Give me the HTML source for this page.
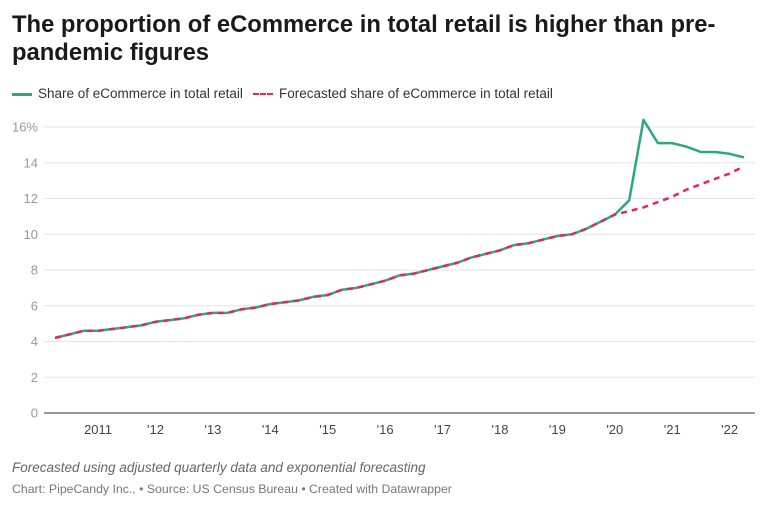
<!DOCTYPE html>
<html><head><meta charset="utf-8"><style>
body{margin:0;background:#fff;font-family:"Liberation Sans",sans-serif;}
#wrap{position:relative;width:768px;height:508px;overflow:hidden;}
h1{position:absolute;left:12px;top:11px;margin:0;font-size:23.8px;line-height:28px;font-weight:bold;color:#1a1a1a;width:756px;white-space:nowrap;}
.leg{position:absolute;top:86px;font-size:13.5px;color:#333;}
.note{position:absolute;left:12px;font-size:12.5px;color:#666;}
</style></head><body>
<div id="wrap">
<h1>The proportion of eCommerce in total retail is higher than pre-<br>pandemic figures</h1>
<div class="leg" style="left:12px"><span style="display:inline-block;width:20px;height:2.5px;background:#2ca97c;vertical-align:middle;margin-right:6px"></span>Share of eCommerce in total retail</div>
<div class="leg" style="left:253px"><span style="display:inline-block;width:20px;border-top:2.5px dashed #e8245f;vertical-align:middle;margin-right:6px"></span>Forecasted share of eCommerce in total retail</div>
<svg id="chart" width="768" height="508" style="position:absolute;left:0;top:0"></svg>
<div class="note" style="top:460px;font-style:italic;font-size:13.5px">Forecasted using adjusted quarterly data and exponential forecasting</div>
<div class="note" style="top:482px;font-size:12.3px;color:#777">Chart: PipeCandy Inc., • Source: US Census Bureau • Created with Datawrapper</div>
</div>
<script>
const actual=[4.2,4.4,4.6,4.6,4.7,4.8,4.9,5.1,5.2,5.3,5.5,5.6,5.6,5.8,5.9,6.1,6.2,6.3,6.5,6.6,6.9,7.0,7.2,7.4,7.7,7.8,8.0,8.2,8.4,8.7,8.9,9.1,9.4,9.5,9.7,9.9,10.0,10.3,10.7,11.1,11.9,16.4,15.1,15.1,14.9,14.6,14.6,14.5,14.3];
const forecast=[4.2,4.4,4.6,4.6,4.7,4.8,4.9,5.1,5.2,5.3,5.5,5.6,5.6,5.8,5.9,6.1,6.2,6.3,6.5,6.6,6.9,7.0,7.2,7.4,7.7,7.8,8.0,8.2,8.4,8.7,8.9,9.1,9.4,9.5,9.7,9.9,10.0,10.3,10.7,11.1,11.3,11.5,11.8,12.1,12.5,12.8,13.1,13.4,13.8];
const yTicks=[0,2,4,6,8,10,12,14,16];
const xLabels=["2011","'12","'13","'14","'15","'16","'17","'18","'19","'20","'21","'22"];
const xLabelIdx=[3,7,11,15,19,23,27,31,35,39,43,47];
const NS="http://www.w3.org/2000/svg",svg=document.getElementById('chart');
const x=i=>55+i*(744-55)/48, y=v=>413-v*(413-127)/16;
function mk(t,a){const e=document.createElementNS(NS,t);for(const k in a)e.setAttribute(k,a[k]);svg.appendChild(e);return e;}
yTicks.forEach(v=>{
 const g=mk('line',{x1:44,x2:755,y1:y(v),y2:y(v),stroke:v===0?'#333':'#e3e3e3','stroke-width':1});
 
 
 const t=mk('text',{x:38,y:y(v)+4.5,'text-anchor':'end','font-size':13,fill:'#999','font-family':'Liberation Sans, sans-serif'});
 t.textContent=v===16?'16%':v;
 
 
});
xLabels.forEach((l,k)=>{
 const t=mk('text',{x:x(xLabelIdx[k]),y:434,'text-anchor':'middle','font-size':13,fill:'#444','font-family':'Liberation Sans, sans-serif'});
 t.textContent=l;
 
 
});
const pts=a=>a.map((v,i)=>x(i).toFixed(1)+','+y(v).toFixed(1)).join(' ');
const la=mk('polyline',{points:pts(actual),fill:'none',stroke:'#2ca97c','stroke-width':2.5,'stroke-linejoin':'round'});


const lf=mk('polyline',{points:pts(forecast),fill:'none',stroke:'#e8245f','stroke-width':2.5,'stroke-dasharray':'6,5'});


</script>
</body></html>
